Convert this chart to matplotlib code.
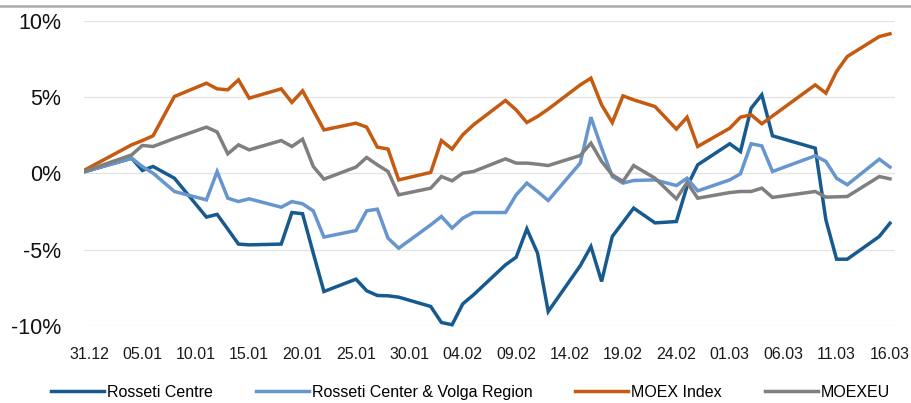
import pandas as pd
import matplotlib
matplotlib.use("Agg")
import matplotlib.pyplot as plt
import matplotlib.dates as mdates
from matplotlib.lines import Line2D
from matplotlib.transforms import Bbox, TransformedBbox
from matplotlib.ticker import FuncFormatter

plt.rcParams['font.family'] = ['Liberation Sans', 'DejaVu Sans']

# trading days, 30.12.2020 - 16.03.2021
dates = ["30.12.2020",
         "04.01.2021", "05.01.2021", "06.01.2021", "08.01.2021",
         "11.01.2021", "12.01.2021", "13.01.2021", "14.01.2021", "15.01.2021",
         "18.01.2021", "19.01.2021", "20.01.2021", "21.01.2021", "22.01.2021",
         "25.01.2021", "26.01.2021", "27.01.2021", "28.01.2021", "29.01.2021",
         "01.02.2021", "02.02.2021", "03.02.2021", "04.02.2021", "05.02.2021",
         "08.02.2021", "09.02.2021", "10.02.2021", "11.02.2021", "12.02.2021",
         "15.02.2021", "16.02.2021", "17.02.2021", "18.02.2021", "19.02.2021",
         "20.02.2021", "22.02.2021",
         "24.02.2021", "25.02.2021", "26.02.2021",
         "01.03.2021", "02.03.2021", "03.03.2021", "04.03.2021", "05.03.2021",
         "09.03.2021", "10.03.2021", "11.03.2021", "12.03.2021",
         "15.03.2021", "16.03.2021"]

# % change since start
rosseti_centre = [0,
                  1.0, 0.2, 0.46, -0.31,
                  -2.86, -2.68, -3.65, -4.63, -4.68,
                  -4.63, -2.56, -2.64, -5.22, -7.74,
                  -6.93, -7.69, -8.0, -8.02, -8.11,
                  -8.72, -9.77, -9.92, -8.55, -7.96,
                  -5.99, -5.49, -3.63, -5.22, -9.05,
                  -6.05, -4.79, -7.08, -4.13, -3.2,
                  -2.27, -3.24,
                  -3.15, -0.85, 0.57,
                  1.95, 1.44, 4.28, 5.16, 2.47,
                  1.66, -3.04, -5.62, -5.62,
                  -4.13, -3.26]

rosseti_volga = [0,
                 1.0, 0.46, 0.02, -1.18,
                 -1.73, 0.13, -1.62, -1.84, -1.66,
                 -2.21, -1.84, -1.99, -2.45, -4.17,
                 -3.74, -2.45, -2.34, -4.24, -4.9,
                 -3.37, -2.82, -3.58, -2.93, -2.56,
                 -2.56, -1.4, -0.63, -1.18, -1.77,
                 0.68, 3.69, 1.66, -0.2, -0.63,
                 -0.46, -0.42,
                 -0.79, -0.31, -1.14,
                 -0.42, -0.02, 1.95, 1.81, 0.13,
                 1.16, 0.79, -0.31, -0.74,
                 0.94, 0.42]

moex_index = [0,
              1.88, 2.16, 2.47, 5.05,
              5.92, 5.55, 5.49, 6.14, 4.94,
              5.55, 4.66, 5.42, 4.15, 2.86,
              3.3, 3.04, 1.73, 1.6, -0.42,
              0.07, 2.16, 1.6, 2.54, 3.19,
              4.79, 4.17, 3.34, 3.74, 4.22,
              5.81, 6.25, 4.5, 3.34, 5.09,
              4.83, 4.39,
              2.91, 3.69, 1.77,
              2.97, 3.69, 3.85, 3.26, 3.77,
              5.81, 5.27, 6.69, 7.67,
              8.98, 9.16]

moexeu = [0,
          1.22, 1.84, 1.77, 2.3,
          3.04, 2.72, 1.29, 1.88, 1.55,
          2.16, 1.77, 2.25, 0.46, -0.37,
          0.42, 1.05, 0.57, 0.13, -1.4,
          -0.96, -0.2, -0.48, 0.02, 0.13,
          0.96, 0.68, 0.68, 0.61, 0.52,
          1.18, 1.99, 0.79, -0.09, -0.52,
          0.52, -0.31,
          -1.66, -0.59, -1.62,
          -1.25, -1.18, -1.18, -0.96, -1.57,
          -1.18, -1.55, -1.53, -1.51,
          -0.2, -0.35]

series_names = ["Rosseti Centre", "Rosseti Center & Volga Region", "MOEX Index", "MOEXEU"]
colors = ["#175a8f", "#6796cf", "#c55a11", "#7f7f7f"]

x = pd.to_datetime(dates, format="%d.%m.%Y")
ticks = pd.date_range("2020-12-31", "2021-03-16", freq="5D")

fig = plt.figure(figsize=(9.12, 4.03), dpi=100)
ax = fig.add_axes([0.0917, 0.1911, 0.890, 0.7568])

x0 = mdates.date2num(pd.Timestamp("2020-12-31")) - 0.5
x1 = mdates.date2num(pd.Timestamp("2021-03-16")) + 0.5
ax.set_xlim(x0, x1)
ax.set_ylim(-10, 10)

for y in [-10, -5, 0, 5, 10]:
    ax.axhline(y, color="#e4e4e4", lw=0.9, zorder=0)

clip = TransformedBbox(Bbox([[x0, -20], [x1, 20]]), ax.transData)
for vals, name, c in zip([rosseti_centre, rosseti_volga, moex_index, moexeu], series_names, colors):
    ln, = ax.plot(x, vals, color=c, lw=2.5, label=name, solid_joinstyle="miter")
    ln.set_clip_box(clip)

ax.set_xticks(ticks)
ax.xaxis.set_major_formatter(mdates.DateFormatter("%d.%m"))
ax.set_yticks([-10, -5, 0, 5, 10])
ax.yaxis.set_major_formatter(FuncFormatter(lambda v, p: f"{v:.0f}%"))
ax.tick_params(axis="y", length=0, pad=16, labelsize=15.5, labelcolor="#111111")
ax.tick_params(axis="x", length=0, pad=15, labelsize=11.5, labelcolor="#1a1a1a")
for s in ax.spines.values():
    s.set_visible(False)

ax.legend(loc="center", bbox_to_anchor=(0.516, 0.027), bbox_transform=fig.transFigure,
          ncol=4, frameon=False, fontsize=11.5, handlelength=3.3, handletextpad=0.2,
          columnspacing=2.7, borderpad=0)

# thin frame line at the very top
fig.add_artist(Line2D([0, 1], [0.986, 0.986], color="#a7abb0", lw=1.8))

fig.savefig("out.png", dpi=100)
